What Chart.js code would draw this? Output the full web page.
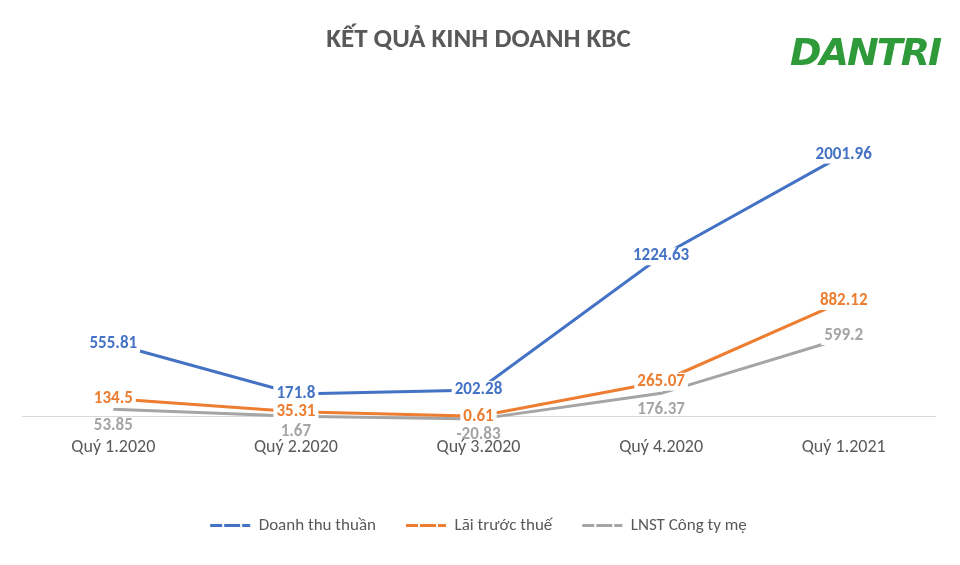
<!DOCTYPE html>
<html><head><meta charset="utf-8">
<script src="https://cdn.jsdelivr.net/npm/chart.js@4"></script>
<style>body{margin:0;background:#fff}#wrap{position:relative;width:960px;height:565px}
#logo{position:absolute;left:790px;top:30px;font:italic 900 38px "DejaVu Sans";color:#2f9a3a;letter-spacing:-2px}</style>
</head><body><div id="wrap"><canvas id="c" width="960" height="565"></canvas><div id="logo">DANTRI</div></div>
<script>
const categories = ['Quý 1.2020','Quý 2.2020','Quý 3.2020','Quý 4.2020','Quý 1.2021'];
const doanhThu = [555.81, 171.8, 202.28, 1224.63, 2001.96];
const laiTruocThue = [134.5, 35.31, 0.61, 265.07, 882.12];
const lnst = [53.85, 1.67, -20.83, 176.37, 599.2];
const FONT = 'Calibri, Carlito, "Liberation Sans", sans-serif';

//Nhãn dữ liệu với nền trắng
const labelPlugin = {
  id: 'labels',
  afterDatasetsDraw(chart) {
    const c = chart.ctx;
    c.save();
    c.font = 'bold 17px ' + FONT;
    c.textAlign = 'center'; c.textBaseline = 'middle';
    chart.data.datasets.forEach((ds, i) => {
      chart.getDatasetMeta(i).data.forEach((pt, j) => {
        let y = pt.y;
        if (i === 2) y += (j === 4 ? -2 : 16);
        const t = String(ds.data[j]);
        const w = c.measureText(t).width + 6;
        if (i !== 2 || j === 4) { c.fillStyle = '#fff'; c.fillRect(pt.x - w/2, y - 9, w, 18); }
        c.fillStyle = ds.borderColor;
        c.fillText(t, pt.x, y);
      });
    });
    c.restore();
  }
};

new Chart(document.getElementById('c'), {
  type: 'line',
  data: {
    labels: categories,
    datasets: [
      {label: 'Doanh thu thuần', data: doanhThu, borderColor: '#4472c4'},
      {label: 'Lãi trước thuế', data: laiTruocThue, borderColor: '#ed7d31'},
      {label: 'LNST Công ty mẹ', data: lnst, borderColor: '#a5a5a5'}
    ].map(d => Object.assign(d, {borderWidth: 3, pointRadius: 0, tension: 0, fill: false, backgroundColor: d.borderColor}))
  },
  options: {
    responsive: false, animation: false,
    layout: {padding: {left: 22, right: 25, top: 0, bottom: 21}},
    plugins: {
      title: {display: true, text: 'KẾT QUẢ KINH DOANH KBC', color: '#595959',
        font: {size: 27, weight: 'bold', family: FONT}, padding: {top: 24, bottom: 37}},
      legend: {position: 'bottom', labels: {boxWidth: 40, boxHeight: 0, padding: 30, color: '#595959',
        font: {size: 17, family: FONT},
        generateLabels: ch => ch.data.datasets.map((d, i) => ({text: d.label, strokeStyle: d.borderColor, fillStyle: d.borderColor, lineWidth: 3, lineDash: [12, 6], datasetIndex: i, fontColor: '#595959'}))}},
      tooltip: {enabled: false}
    },
    scales: {
      x: {position: {y: 0}, offset: true, grid: {display: false}, border: {color: '#d9d9d9'}, ticks: {padding: 12, color: '#595959', font: {size: 18, family: FONT}}},
      y: {min: -540, max: 2470, display: false}
    }
  },
  plugins: [labelPlugin]
});
</script></body></html>
